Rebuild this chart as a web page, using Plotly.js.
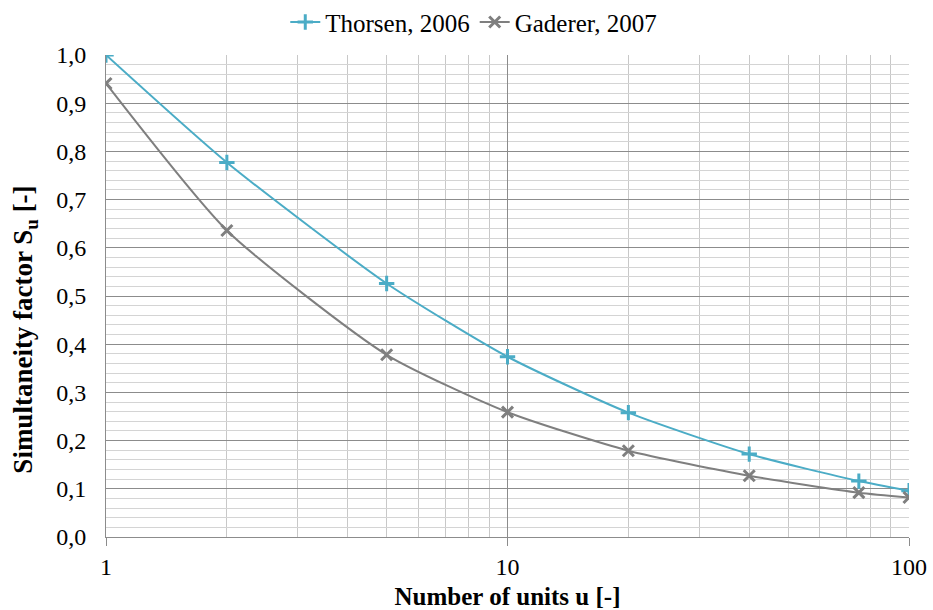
<!DOCTYPE html>
<html>
<head>
<meta charset="utf-8">
<script src="https://cdn.plot.ly/plotly-3.0.1.min.js"></script>
<style>
  body { margin: 0; background: #fff; }
  #chart { width: 933px; height: 610px; }
</style>
</head>
<body>
<div id="chart"></div>
<script>
const units = [1, 2, 5, 10, 20, 40, 75, 100];
const thorsen = [1.0, 0.777, 0.526, 0.374, 0.258, 0.172, 0.116, 0.096];
const gaderer = [0.941, 0.636, 0.378, 0.259, 0.179, 0.127, 0.092, 0.082];
const seriesNames = ['Thorsen, 2006', 'Gaderer, 2007'];
const yTitle = '<b>Simultaneity factor S<sub>u</sub> [-]</b>';
const xTitle = '<b>Number of units u [-]</b>';

const serif = 'Liberation Serif, Times New Roman, serif';

const data = [
  {
    x: units, y: thorsen, name: seriesNames[0],
    type: 'scatter', mode: 'lines+markers',
    line: {color: '#4bacc6', width: 2, shape: 'spline', smoothing: 0.6},
    marker: {symbol: 'cross-thin', size: 11, line: {color: '#4bacc6', width: 3}}
  },
  {
    x: units, y: gaderer, name: seriesNames[1],
    type: 'scatter', mode: 'lines+markers',
    line: {color: '#7f7f7f', width: 2, shape: 'spline', smoothing: 0.6},
    marker: {symbol: 'x-thin', size: 11, line: {color: '#7f7f7f', width: 3}}
  }
];

const layout = {
  width: 933, height: 610,
  margin: {l: 106, r: 24, t: 55, b: 73, autoexpand: false},
  paper_bgcolor: '#fff', plot_bgcolor: '#fff',
  separators: ', ',
  font: {family: serif, size: 24, color: '#000'},
  showlegend: true,
  legend: {
    orientation: 'h', x: 0.458, xanchor: 'center', y: 1.068, yanchor: 'middle',
    font: {family: serif, size: 25}, itemwidth: 30, traceorder: 'normal'
  },
  xaxis: {
    type: 'log', range: [0, 2],
    tickvals: [1, 10, 100], ticktext: ['1', '10', '100'],
    ticks: 'outside', ticklen: 8, tickcolor: '#8c8c8c',
    showline: true, linecolor: '#8c8c8c', linewidth: 1,
    showgrid: true, gridcolor: '#8c8c8c', gridwidth: 1,
    minor: {dtick: 'D1', showgrid: true, gridcolor: '#c8c8c8', gridwidth: 1, ticks: ''},
    zeroline: false,
    tickfont: {family: serif, size: 24},
    title: {text: xTitle, font: {family: serif, size: 25}, standoff: 8}
  },
  yaxis: {
    range: [0, 1], dtick: 0.1, tickformat: '.1f',
    showline: true, linecolor: '#8c8c8c', linewidth: 1,
    showgrid: true, gridcolor: '#8c8c8c', gridwidth: 1,
    minor: {dtick: 0.02, showgrid: true, gridcolor: '#d4d4d4', gridwidth: 1},
    zeroline: false, ticks: '', ticklabelstandoff: 14,
    tickfont: {family: serif, size: 24}
  },
  annotations: [{
    text: yTitle, xref: 'paper', yref: 'paper',
    x: -0.101, y: 0.43, xanchor: 'center', yanchor: 'middle',
    textangle: -90, showarrow: false,
    font: {family: serif, size: 27}
  }]
};

Plotly.newPlot('chart', data, layout, {displayModeBar: false, staticPlot: true});
</script>
</body>
</html>
